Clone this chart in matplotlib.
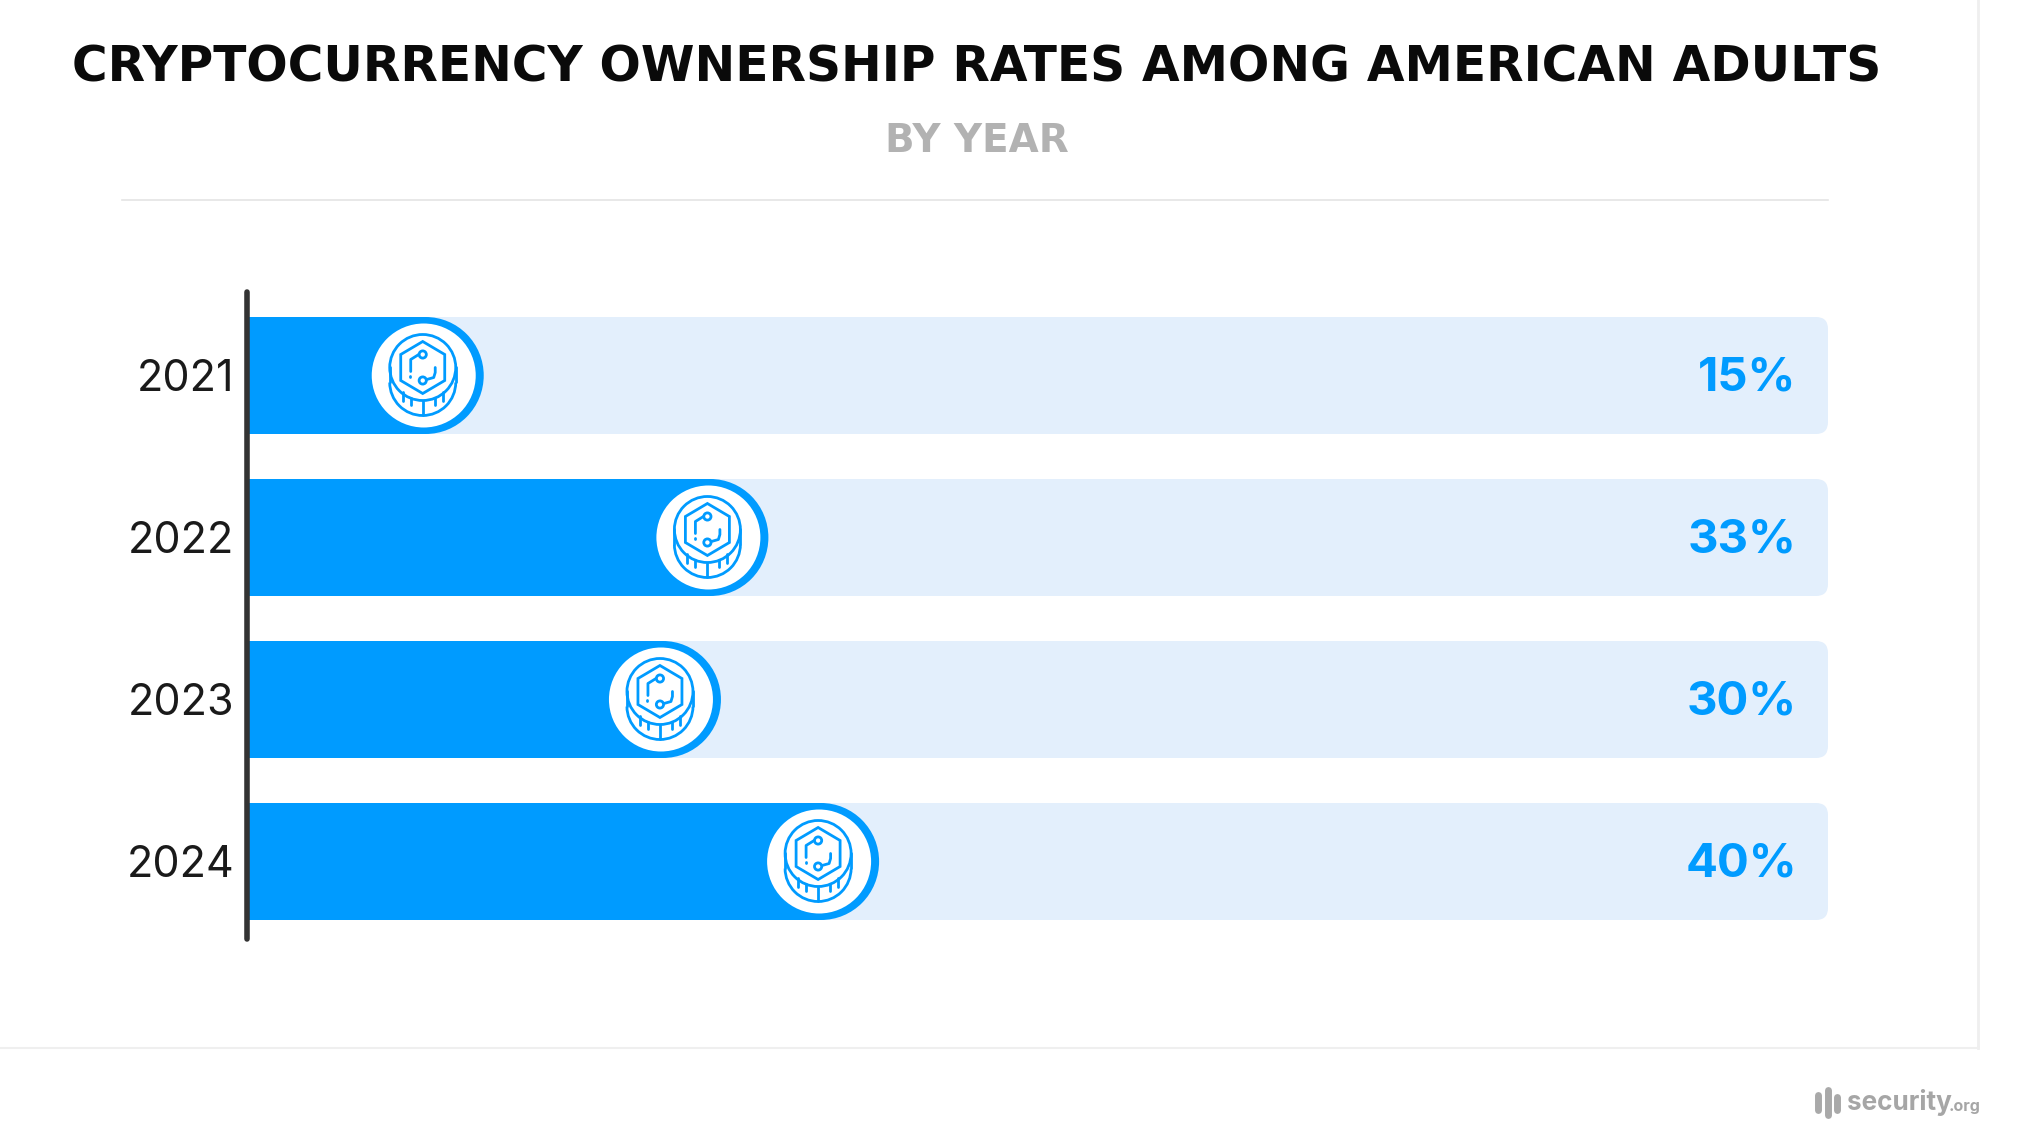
import numpy as np
import matplotlib
matplotlib.use("Agg")
import matplotlib.pyplot as plt
from matplotlib.patches import Circle, Ellipse, FancyBboxPatch, Polygon, Arc
from matplotlib.lines import Line2D
from matplotlib.transforms import Affine2D, IdentityTransform

years = ["2021", "2022", "2023", "2024"]
rates = [15, 33, 30, 40]
title = "CRYPTOCURRENCY OWNERSHIP RATES AMONG AMERICAN ADULTS"
subtitle = "BY YEAR"

BLUE = "#009BFF"
TRACK = "#E3EFFC"
W, H = 2030, 1146

plt.rcParams["font.family"] = ["Inter", "DejaVu Sans"]

fig = plt.figure(figsize=(W / 100, H / 100), dpi=100)
bg = fig.add_axes([0, 0, 1, 1])
bg.set_xlim(0, W)
bg.set_ylim(H, 0)
bg.axis("off")

# page furniture, in pixels
bg.plot([122, 1828], [200, 200], color="#E4E4E4", lw=1.2)
bg.plot([1978, 1978], [0, 1048], color="#EFEFEF", lw=2)
bg.plot([0, 1978], [1048, 1048], color="#EFEFEF", lw=1.5)
bg.text(977, 82, title, ha="center", va="baseline", fontsize=35, family="DejaVu Sans", fontweight="bold",
        color="#0A0A0A")
bg.text(977, 152, subtitle, ha="center", va="baseline", fontsize=28, family="DejaVu Sans", fontweight="bold",
        color="#B2B2B2")

ax = fig.add_axes([246.5 / W, 1 - 939 / H, (1828 - 246.5) / W, (939 - 292) / H])
ax.set_xlim(0, 100)
top, bottom = (292 - 375.5) / 162, (939 - 375.5) / 162
ax.set_ylim(bottom, top)
ax.patch.set_alpha(0)
for s in ["top", "right", "bottom"]:
    ax.spines[s].set_visible(False)
ax.spines["left"].set_linewidth(4)
ax.spines["left"].set_color("#333333")
ax.spines["left"].set_capstyle("round")
ax.spines["left"].set_zorder(10)
ax.set_xticks([])
ax.set_yticks(range(len(years)))
ax.set_yticklabels(years, fontsize=31, color="#1A1A1A")
ax.tick_params(axis="y", length=0, pad=9)

px_x = 100 / (1828 - 246.5)   # data units per pixel
px_y = (bottom - top) / (939 - 292)
bar_h = 117 * px_y
r = 58


def draw_coin(t):
    # icon is drawn in pixels around the bubble centre, y up
    c = dict(color=BLUE, lw=2, transform=t, zorder=6, solid_capstyle="round")
    ax.add_patch(Circle((0, 8), 33, fill=False, ec=BLUE, lw=2, transform=t, zorder=6))
    ax.add_patch(Arc((0, -7), 66, 66, theta1=180, theta2=360, ec=BLUE, lw=2, transform=t, zorder=6))
    ax.add_line(Line2D([-33, -33], [8, -7], **c))
    ax.add_line(Line2D([33, 33], [8, -7], **c))
    a = np.radians(np.arange(90, 450, 60))
    ax.add_patch(Polygon(np.c_[22 * np.cos(a) / np.cos(np.pi / 6), 26 * np.sin(a) + 8], closed=True,
                         fill=False, ec=BLUE, lw=2, transform=t, zorder=6))
    for dy in [21, -5]:
        ax.add_patch(Circle((0, dy), 3.6, fill=False, ec=BLUE, lw=2, transform=t, zorder=6))
    ax.add_line(Line2D([-4, -12, -12], [21, 16, 4], **c))
    ax.add_line(Line2D([-12.5, -12.5], [-1, -2], **c))
    ax.add_line(Line2D([4, 11, 12.5, 12.5], [-4, -2, 3, 8], **c))
    for dx, top_y, bot_y in [(-20, -17, -26), (-12, -23, -30), (0, -26, -40), (12, -23, -30), (20, -17, -26)]:
        ax.add_line(Line2D([dx, dx], [top_y, bot_y], **c))


for i, (year, v) in enumerate(zip(years, rates)):
    # background track with rounded right corners
    x0, y0 = ax.transData.transform((0, i + bar_h / 2))
    x1, y1 = ax.transData.transform((100, i - bar_h / 2))
    ax.add_patch(FancyBboxPatch((x0 - 30, y0 + 12), x1 - x0 + 30 - 12, y1 - y0 - 24,
                                boxstyle="round,pad=12,rounding_size=12", fc=TRACK, ec="none",
                                transform=IdentityTransform(), zorder=1, clip_on=True))
    # filled bar ending in a half circle
    ax.barh(i, v - r * px_x, height=bar_h, color=BLUE, zorder=2)
    ax.add_patch(Ellipse((v - r * px_x, i), 2 * r * px_x, bar_h, fc=BLUE, ec="none", zorder=2))
    ax.add_patch(Ellipse((v - (r + 2) * px_x, i), 104 * px_x, 104 * px_y, fc="white", ec="none", zorder=3))
    cx, cy = ax.transData.transform((v - (r + 3) * px_x, i))
    draw_coin(Affine2D().translate(cx, cy))
    ax.annotate(f"{v}%", xy=(100, i), xytext=(-22.5, 1.5), textcoords="offset points", ha="right", va="center_baseline",
                fontsize=34, fontweight="bold", color=BLUE, zorder=4)

# logo, bottom right
for x, top_y, bot_y in [(1818, 1095, 1110), (1828, 1090, 1115), (1837, 1097, 1110)]:
    bg.plot([x, x], [top_y, bot_y], color="#A9A9A9", lw=5, solid_capstyle="round")
bg.text(1847, 1102, "security", ha="left", va="center", fontsize=18.8, fontweight="bold", color="#A6A6A6")
bg.text(1949, 1106, ".org", ha="left", va="center", fontsize=11.5, fontweight="bold", color="#A6A6A6")

fig.savefig("out.png", dpi=100)
